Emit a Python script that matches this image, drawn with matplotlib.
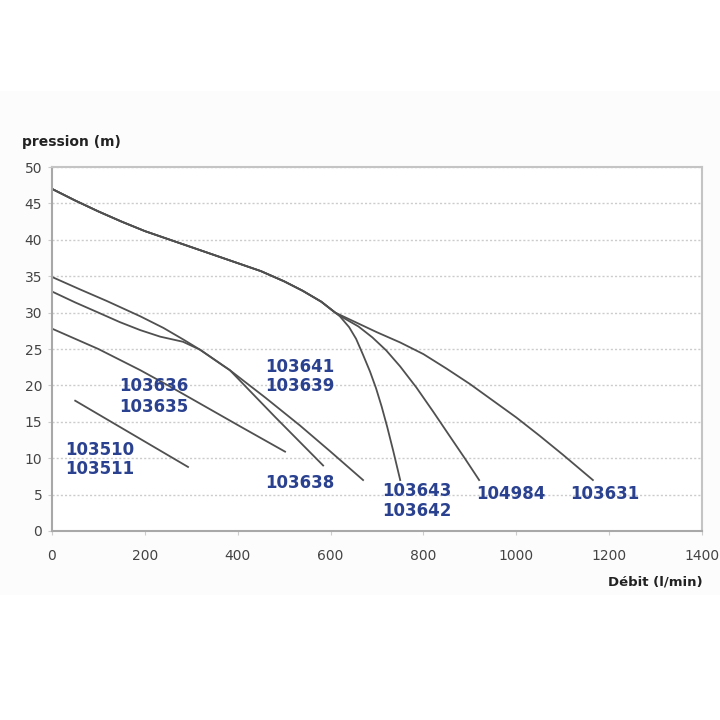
import matplotlib
matplotlib.use("Agg")
import matplotlib.pyplot as plt
from matplotlib.patches import Rectangle

# Courbes débit (l/min) / pression (m) lues sur le graphique
# tronc commun des trois grosses pompes
x_tronc = [0, 50, 100, 150, 200, 300, 400, 450, 500, 540, 580, 610]
y_tronc = [47, 45.4, 43.9, 42.5, 41.2, 39, 36.8, 35.7, 34.3, 33, 31.5, 30]

x_103631 = [650, 700, 750, 800, 850, 900, 950, 1000, 1050, 1100, 1165]
y_103631 = [28.8, 27.3, 25.9, 24.3, 22.3, 20.2, 17.9, 15.6, 13.1, 10.5, 7]

x_104984 = [630, 660, 690, 720, 750, 785, 821, 857, 890, 920]
y_104984 = [29.2, 28.1, 26.6, 24.8, 22.6, 19.7, 16.4, 13.0, 9.9, 7]

x_103643 = [620, 640, 655, 670, 685, 698, 710, 722, 735, 750]
y_103643 = [29.5, 28, 26.4, 24.2, 21.9, 19.6, 17.1, 14.3, 11, 7]

x_103641 = [0, 60, 118, 190, 240, 283, 319, 369, 383, 460, 534, 600, 670]
y_103641 = [34.9, 33.2, 31.6, 29.5, 27.9, 26.3, 24.9, 22.7, 22.1, 18.3, 14.5, 10.9, 7]

x_103638 = [0, 50, 100, 146, 190, 233, 282, 319, 383, 480, 584]
y_103638 = [32.9, 31.4, 30, 28.7, 27.6, 26.7, 26.0, 24.9, 22.1, 15.7, 9.0]

x_103636 = [0, 100, 190, 250, 319, 410, 502]
y_103636 = [27.8, 25.0, 22.1, 20.0, 17.5, 14.2, 10.9]

x_103510 = [50, 293]
y_103510 = [17.9, 8.8]

# Etiquettes des références
labels = ["103636", "103635", "103510", "103511", "103641", "103639",
          "103638", "103643", "103642", "104984", "103631"]
label_x = [220, 220, 103, 103, 534, 534, 534, 786, 786, 989, 1191]
label_y = [19.9, 17.0, 11.1, 8.5, 22.5, 19.9, 6.6, 5.5, 2.7, 5.1, 5.1]

fig = plt.figure(figsize=(7.2, 7.2), dpi=100)
fig.patch.set_facecolor("white")
# très léger fond gris de la zone du graphique
fig.patches.append(Rectangle((0, 0.174), 1, 0.70, transform=fig.transFigure,
                             facecolor="#fcfcfc", edgecolor="none", zorder=-1))

ax = fig.add_axes([0.0722, 0.2625, 0.9028, 0.5055])
ax.set_facecolor("white")

couleur = "#505050"
courbes = [
    (x_tronc + x_103631, y_tronc + y_103631),
    (x_tronc + x_104984, y_tronc + y_104984),
    (x_tronc + x_103643, y_tronc + y_103643),
    (x_103641, y_103641),
    (x_103638, y_103638),
    (x_103636, y_103636),
    (x_103510, y_103510),
]
for xs, ys in courbes:
    ax.plot(xs, ys, color=couleur, linewidth=1.3, solid_joinstyle="round")

for txt, lx, ly in zip(labels, label_x, label_y):
    ax.text(lx, ly, txt, color="#2a4190", fontsize=12, fontweight="bold",
            ha="center", va="center")

ax.set_xlim(0, 1400)
ax.set_ylim(0, 50)
ax.set_xticks(range(0, 1401, 200))
ax.set_yticks(range(0, 51, 5))

# Grille pointillée
ax.yaxis.grid(True, linestyle=(0, (1.5, 1.5)), color="#cccccc", linewidth=1)
ax.set_axisbelow(True)

for side in ["left", "bottom"]:
    ax.spines[side].set_color("#a8a8a8")
    ax.spines[side].set_linewidth(1.5)
for side in ["top", "right"]:
    ax.spines[side].set_color("#c4c4c4")
    ax.spines[side].set_linewidth(1.5)

ax.tick_params(axis="y", length=3, color="#cccccc", labelcolor="#444444",
               labelsize=10, pad=4)
ax.tick_params(axis="x", length=3, color="#cccccc", labelcolor="#444444",
               labelsize=10, pad=10)

fig.text(0.031, 0.803, "pression (m)", fontsize=10, fontweight="bold",
         color="#222222", ha="left", va="center")
fig.text(0.976, 0.192, "Débit (l/min)", fontsize=9.5, fontweight="bold",
         color="#222222", ha="right", va="center")

fig.savefig("out.png", dpi=100)
